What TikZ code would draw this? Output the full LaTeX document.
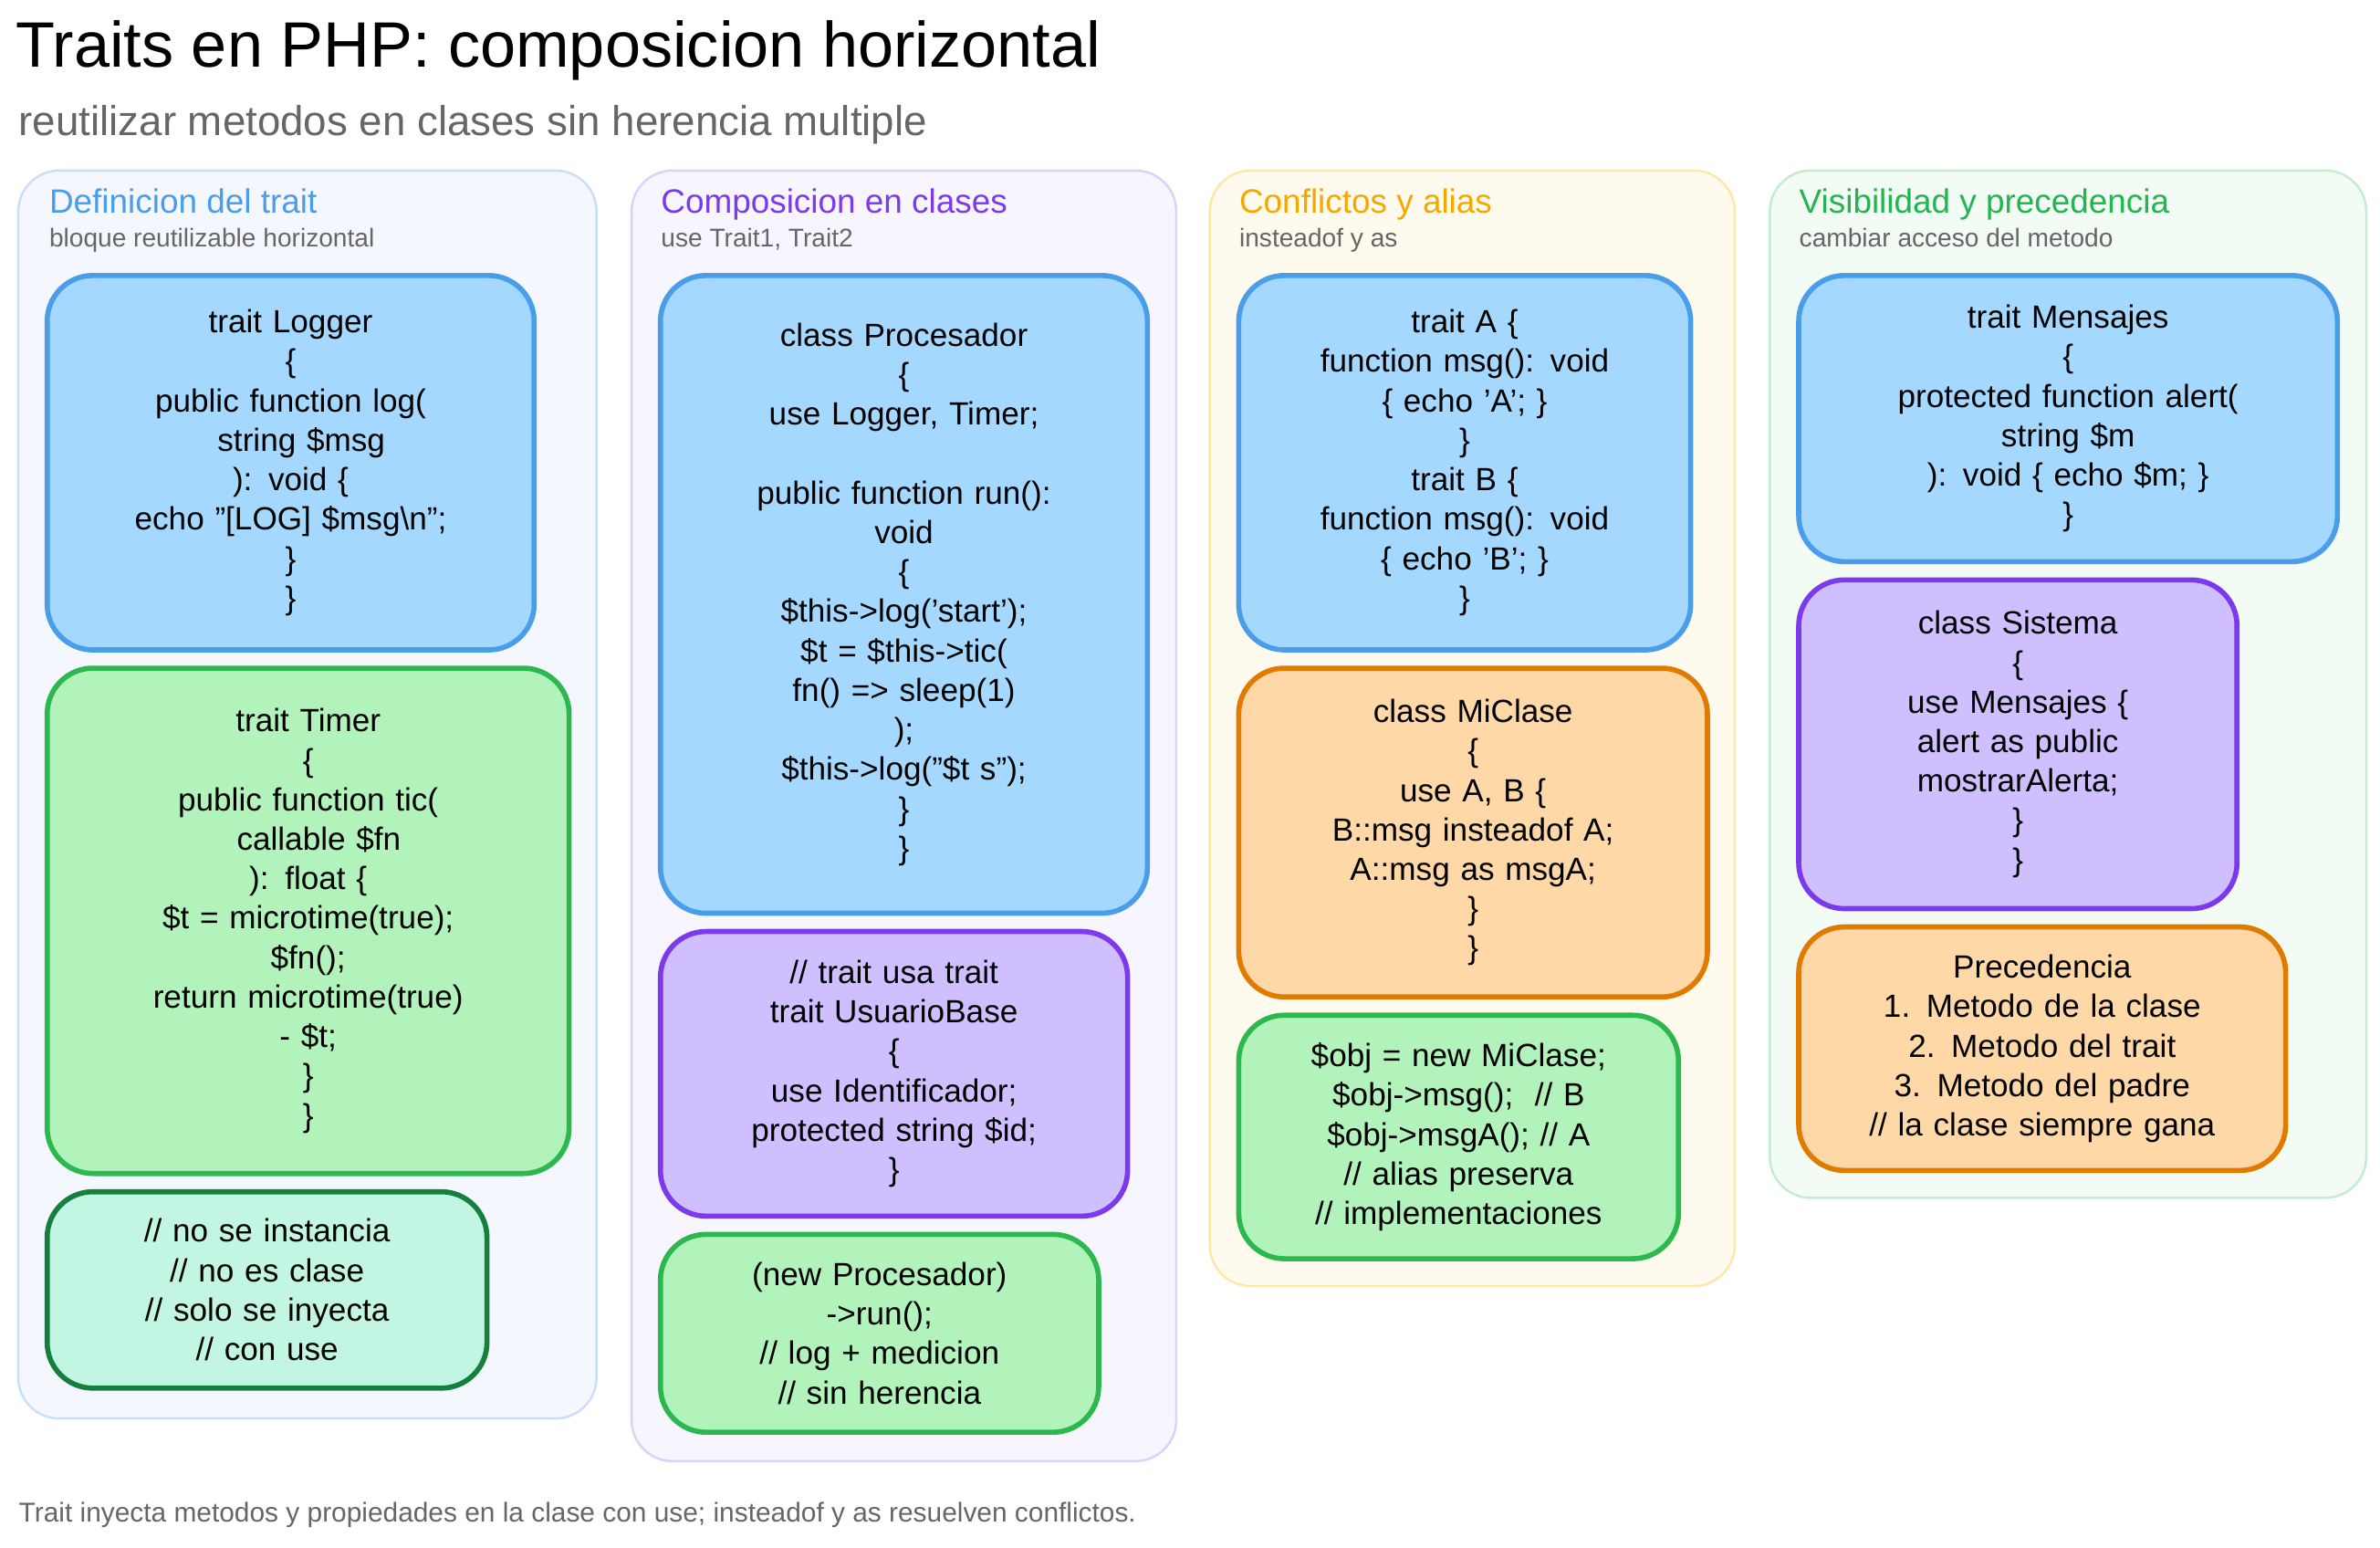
\documentclass[tikz,border=0pt]{standalone}
\usepackage{fontspec}
\setmainfont{Liberation Sans}
\begin{document}
\definecolor{bfill}{HTML}{A5D8FF}\definecolor{bdraw}{HTML}{4A9DE8}
\definecolor{gfill}{HTML}{B2F2BB}\definecolor{gdraw}{HTML}{2DB84F}
\definecolor{pfill}{HTML}{D0BFFF}\definecolor{pdraw}{HTML}{7C3AED}
\definecolor{ofill}{HTML}{FFD8A8}\definecolor{odraw}{HTML}{E07B00}
\definecolor{tfill}{HTML}{C3F5E3}\definecolor{tdraw}{HTML}{15803D}
\definecolor{gr}{HTML}{666666}
\definecolor{pf1}{HTML}{F4F8FE}\definecolor{pd1}{HTML}{C9DFF7}
\definecolor{pf2}{HTML}{F7F5FE}\definecolor{pd2}{HTML}{DDD0FB}
\definecolor{pf3}{HTML}{FFFAEE}\definecolor{pd3}{HTML}{FDE8A8}
\definecolor{pf4}{HTML}{F2FBF4}\definecolor{pd4}{HTML}{C4ECD0}
\definecolor{h1c}{HTML}{4A9DE8}\definecolor{h2c}{HTML}{7C3AED}
\definecolor{h3c}{HTML}{F5A800}\definecolor{h4c}{HTML}{22B550}
\newcommand\bx[7]{\node[#2, minimum width={(#5-#3)*0.016675cm}, minimum height={(#6-#4)*0.016675cm}, text width={(#5-#3-24)*0.016675cm}] (#1) at ({(#3+#5)/2},{(#4+#6)/2}) {#7};}
\begin{tikzpicture}[x=0.016675cm,y=-0.016675cm,
  box/.style={rounded corners=0.5cm, line width=1.6pt, inner sep=0pt, align=center, font=\fontsize{10}{12.3}\selectfont},
  blue/.style={box, fill=bfill, draw=bdraw},
  green/.style={box, fill=gfill, draw=gdraw},
  purple/.style={box, fill=pfill, draw=pdraw},
  orange/.style={box, fill=ofill, draw=odraw},
  teal/.style={box, fill=tfill, draw=tdraw},
  panel/.style={rounded corners=0.45cm, line width=0.7pt, inner sep=0pt},
  head/.style={anchor=base west, inner sep=0pt, font=\fontsize{10.5}{12}\selectfont},
  sub/.style={anchor=base west, inner sep=0pt, text=gr, font=\fontsize{8}{10}\selectfont}]
\useasboundingbox (0,0) rectangle (1564,1016.5);
\node[anchor=base west, inner sep=0pt, font=\fontsize{20}{24}\selectfont] (title) at (10,44) {Traits en PHP: composicion horizontal};
\node[anchor=base west, inner sep=0pt, text=gr, font=\fontsize{13}{16}\selectfont] (subtitle) at (12,89) {reutilizar metodos en clases sin herencia multiple};
% panels
\node[panel, fill=pf1, draw=pd1, minimum width={380*0.016675cm}, minimum height={820*0.016675cm}] (p1) at (202,522) {};
\node[panel, fill=pf2, draw=pd2, minimum width={358*0.016675cm}, minimum height={848*0.016675cm}] (p2) at (594,536) {};
\node[panel, fill=pf3, draw=pd3, minimum width={345*0.016675cm}, minimum height={733*0.016675cm}] (p3) at (967.5,478.5) {};
\node[panel, fill=pf4, draw=pd4, minimum width={392*0.016675cm}, minimum height={675*0.016675cm}] (p4) at (1359,449.5) {};
\node[head, text=h1c] (h1) at (32,140) {Definicion del trait};
\node[sub] (s1) at (32,162) {bloque reutilizable horizontal};
\node[head, text=h2c] (h2) at (434,140) {Composicion en clases};
\node[sub] (s2) at (434,162) {use Trait1, Trait2};
\node[head, text=h3c] (h3) at (814,140) {Conflictos y alias};
\node[sub] (s3) at (814,162) {insteadof y as};
\node[head, text=h4c] (h4) at (1182,140) {Visibilidad y precedencia};
\node[sub] (s4) at (1182,162) {cambiar acceso del metodo};
% panel 1
\bx{logger}{blue}{31}{181}{351}{427}{trait Logger\\ \{\\ public function log(\\ \ \ string \$msg\\ ): void \{\\ echo "[LOG] \$msg\textbackslash n";\\ \}\\ \}}
\bx{timer}{green}{31}{439}{374}{771}{trait Timer\\ \{\\ public function tic(\\ \ \ callable \$fn\\ ): float \{\\ \$t = microtime(true);\\ \$fn();\\ return microtime(true)\\ - \$t;\\ \}\\ \}}
\bx{note1}{teal}{31}{783}{320}{912}{// no se instancia\\ // no es clase\\ // solo se inyecta\\ // con use}
% panel 2
\bx{proc}{blue}{434}{181}{754}{600}{class Procesador\\ \{\\ use Logger, Timer;\\ ~\\ public function run():\\ void\\ \{\\ \$this->log('start');\\ \$t = \$this->tic(\\ fn() => sleep(1)\\ );\\ \$this->log("\$t s");\\ \}\\ \}}
\bx{usr}{purple}{434}{612}{741}{799}{// trait usa trait\\ trait UsuarioBase\\ \{\\ use Identificador;\\ protected string \$id;\\ \}}
\bx{run}{green}{434}{811}{722}{941}{(new Procesador)\\ ->run();\\ // log + medicion\\ // sin herencia}
% panel 3
\bx{ab}{blue}{814}{181}{1111}{427}{trait A \{\\ function msg(): void\\ \{ echo 'A'; \}\\ \}\\ trait B \{\\ function msg(): void\\ \{ echo 'B'; \}\\ \}}
\bx{micl}{orange}{814}{439}{1122}{655}{class MiClase\\ \{\\ use A, B \{\\ B::msg insteadof A;\\ A::msg as msgA;\\ \}\\ \}}
\bx{obj}{green}{814}{667}{1103}{827}{\$obj = new MiClase;\\ \$obj->msg();\ \ // B\\ \$obj->msgA(); // A\\ // alias preserva\\ // implementaciones}
% panel 4
\bx{mens}{blue}{1182}{181}{1536}{369}{trait Mensajes\\ \{\\ protected function alert(\\ string \$m\\ ): void \{ echo \$m; \}\\ \}}
\bx{sis}{purple}{1182}{381}{1470}{597}{class Sistema\\ \{\\ use Mensajes \{\\ alert as public\\ mostrarAlerta;\\ \}\\ \}}
\bx{prec}{orange}{1182}{609}{1502}{769}{Precedencia\\ 1. Metodo de la clase\\ 2. Metodo del trait\\ 3. Metodo del padre\\ // la clase siempre gana}
\node[anchor=base west, inner sep=0pt, text=gr, font=\fontsize{8.5}{10}\selectfont] (foot) at (12,1000) {Trait inyecta metodos y propiedades en la clase con use; insteadof y as resuelven conflictos.};
\end{tikzpicture}
\end{document}
